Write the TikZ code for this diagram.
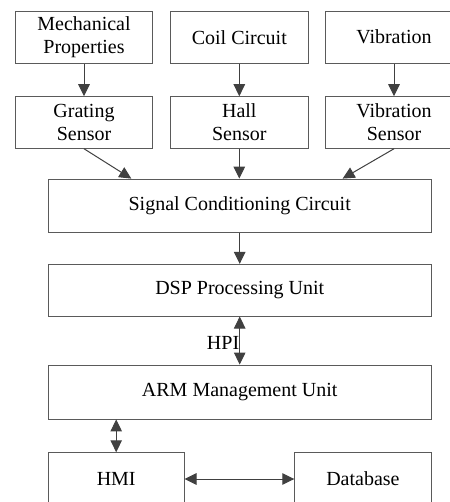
\documentclass[tikz,border=0pt]{standalone}
\usepackage{fontspec}
\setmainfont{Liberation Serif}
\usetikzlibrary{arrows.meta,calc}
\definecolor{boxc}{HTML}{5A5A5A}
\definecolor{arrc}{HTML}{404040}
\tikzset{
  blk/.style={draw=boxc, line width=0.9pt, rectangle, inner sep=0pt, align=center, font=\fontsize{20}{23}\selectfont},
  conn/.style={draw=arrc, line width=1pt, -{Triangle[length=12pt,width=11.5pt]}},
  biconn/.style={draw=arrc, line width=1pt, {Triangle[length=12pt,width=11.5pt]}-{Triangle[length=12pt,width=11.5pt]}}
}
\begin{document}
\begin{tikzpicture}[x=1pt,y=-1pt]
\useasboundingbox (0,0) rectangle (449,502);
\node[blk, minimum width=137.4pt, minimum height=52.3pt] (mp) at (84,37.2) {Mechanical\\Properties};
\node[blk, minimum width=138pt, minimum height=52.3pt] (cc) at (239.3,37.2) {Coil Circuit};
\node[blk, minimum width=138pt, minimum height=52.3pt] (vb) at (394,37.2) {Vibration};
\node[blk, minimum width=137.4pt, minimum height=51.6pt] (gs) at (84,122.5) {Grating\\Sensor};
\node[blk, minimum width=138pt, minimum height=51.6pt] (hs) at (239.3,122.5) {Hall\\Sensor};
\node[blk, minimum width=138pt, minimum height=51.6pt] (vs) at (394,122.5) {Vibration\\Sensor};
\node[blk, minimum width=382.7pt, minimum height=53.3pt] (sc) at (239.7,205.7) {Signal Conditioning Circuit};
\node[blk, minimum width=382.7pt, minimum height=51.7pt] (dsp) at (239.7,290.2) {DSP Processing Unit};
\node[blk, minimum width=382.7pt, minimum height=54pt] (arm) at (239.7,392) {ARM Management Unit};
\node[blk, minimum width=135.7pt, minimum height=52.6pt] (hmi) at (116.2,479) {HMI};
\node[blk, minimum width=136.3pt, minimum height=52.6pt] (db) at (362.9,479) {Database};
\coordinate (s1) at ($(sc.north west)+(83.4,0)$);
\coordinate (s3) at ($(sc.north west)+(294.7,0)$);
\draw[conn] (mp) -- (gs);
\draw[conn] (cc) -- (hs);
\draw[conn] (vb) -- (vs);
\draw[conn] (gs.south) -- (s1);
\draw[conn] (hs.south) -- (hs.south |- sc.north);
\draw[conn] (vs.south) -- (s3);
\draw[conn] (sc) -- (dsp);
\draw[biconn] (dsp) -- node[pos=0.55, anchor=east, inner sep=0pt, font=\fontsize{20}{23}\selectfont] (hpi) {HPI} (arm);
\draw[biconn] (arm.south -| hmi.north) -- (hmi.north);
\draw[biconn] (hmi) -- (db);
\end{tikzpicture}
\end{document}
